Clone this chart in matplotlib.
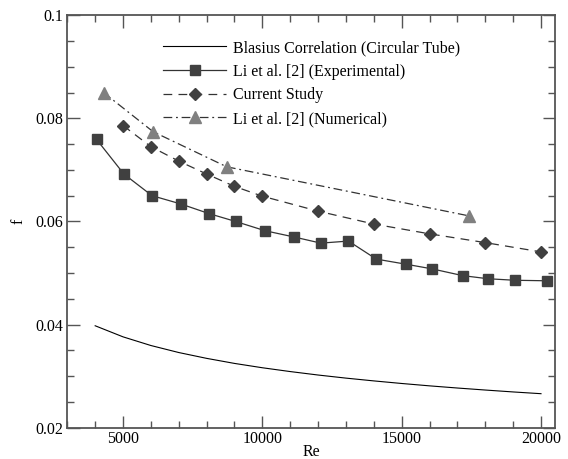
import numpy as np
import matplotlib
matplotlib.use("Agg")
import matplotlib.pyplot as plt
from matplotlib.ticker import MultipleLocator

plt.rcParams['font.family'] = ['Liberation Serif', 'DejaVu Serif']
plt.rcParams['mathtext.fontset'] = 'stix'

# data
re_blasius = [4000, 5000, 6000, 7000, 8000, 9000, 10000, 11000, 12000,
              13000, 14000, 15000, 16000, 17000, 18000, 19000, 20000]
f_blasius = [0.03978, 0.03763, 0.03595, 0.03459, 0.03346, 0.03248, 0.03164,
             0.03090, 0.03023, 0.02963, 0.02909, 0.02859, 0.02813, 0.02771,
             0.02732, 0.02695, 0.02661]

re_exp = [4050, 5030, 6040, 7070, 8100, 9040, 10100, 11130, 12100, 13090,
          14090, 15170, 16100, 17190, 18090, 19060, 20200]
f_exp = [0.0759, 0.0692, 0.0650, 0.0634, 0.0615, 0.0600, 0.0582, 0.0570,
         0.0558, 0.0562, 0.0527, 0.0517, 0.0508, 0.0495, 0.0489, 0.0486, 0.0485]

re_cur = [5000, 6000, 7000, 8000, 9000, 10000, 12000, 14000, 16000, 18000, 20000]
f_cur = [0.0786, 0.0745, 0.0717, 0.0692, 0.0668, 0.0649, 0.0620, 0.0595,
         0.0576, 0.0559, 0.0541]

re_num = [4300, 6080, 8720, 17400]
f_num = [0.0850, 0.0774, 0.0706, 0.0611]

fig = plt.figure(figsize=(5.68, 4.59), dpi=100)
ax = fig.add_axes([0.1185, 0.068, 0.8585, 0.899])

ax.plot(re_blasius, f_blasius, color='black', lw=0.8,
        label='Blasius Correlation (Circular Tube)')
ax.plot(re_exp, f_exp, color='#333333', lw=0.9, marker='s', ms=7,
        mfc='#404040', mec='#404040', label='Li et al. [2] (Experimental)')
ax.plot(re_cur, f_cur, color='#333333', lw=0.9, ls=(0, (7, 5)), marker='D', ms=6.5,
        mfc='#404040', mec='#404040', label='Current Study')
ax.plot(re_num, f_num, color='#333333', lw=0.9, ls=(0, (7, 3, 1.5, 3)), marker='^', ms=9,
        mfc='#808080', mec='#808080', label='Li et al. [2] (Numerical)')

ax.set_xlim(3000, 20500)
ax.set_ylim(0.02, 0.1)
ax.xaxis.set_major_locator(MultipleLocator(5000))
ax.xaxis.set_minor_locator(MultipleLocator(1000))
ax.yaxis.set_minor_locator(MultipleLocator(0.005))
ax.set_yticks([0.02, 0.04, 0.06, 0.08, 0.1])
ax.set_yticklabels(['0.02', '0.04', '0.06', '0.08', '0.1'])

for s in ax.spines.values():
    s.set_color('#555555')
    s.set_linewidth(1.3)
ax.tick_params(which='both', direction='in', top=True, right=True,
               colors='#555555', labelcolor='black', labelsize=11.5)
ax.tick_params(which='major', length=9, width=1)
ax.tick_params(which='minor', length=5, width=1)
ax.tick_params(axis='x', pad=2)
ax.tick_params(axis='y', pad=3)

ax.set_xlabel('Re', fontsize=11.5, labelpad=-2)
ax.set_ylabel('f', fontsize=11.5, labelpad=6)

ax.legend(loc='upper left', bbox_to_anchor=(0.197, 0.94), frameon=False,
          fontsize=11.5, handlelength=3.9, handletextpad=0.45, borderpad=0,
          borderaxespad=0, labelspacing=0.48, numpoints=1)

fig.savefig('out.png', dpi=100)
